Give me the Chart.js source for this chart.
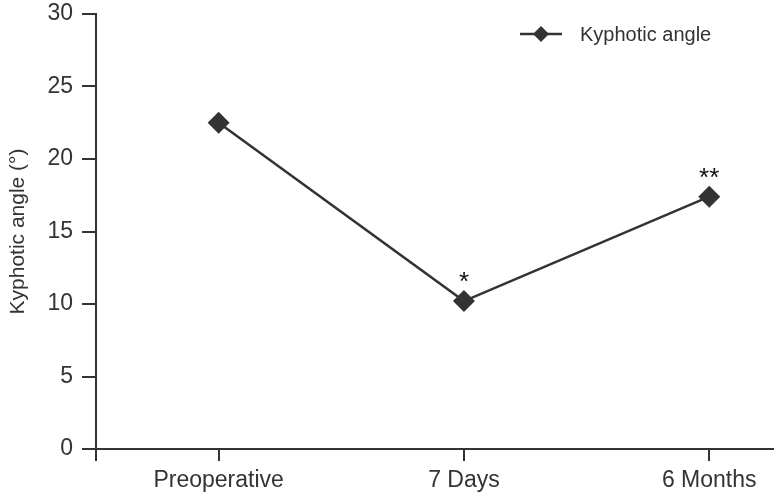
<!DOCTYPE html>
<html>
<head>
<meta charset="utf-8">
<script src="https://cdn.jsdelivr.net/npm/chart.js@4"></script>
<style>
  html, body { margin: 0; padding: 0; background: #fff; }
  #wrap { width: 777px; height: 497px; }
</style>
</head>
<body>
<div id="wrap"><canvas id="chart"></canvas></div>
<script>
const categories = ['Preoperative', '7 Days', '6 Months'];
const kyphoticAngle = [22.5, 10.2, 17.4];
const significance = ['', '*', '**'];
const yTicks = [0, 5, 10, 15, 20, 25, 30];

const ink = '#333333';
const font = 'Liberation Sans, Arial, sans-serif';

// stars above the points, placed from the dataset's own points
const starPlugin = {
  id: 'stars',
  afterDatasetsDraw(chart) {
    const ctx = chart.ctx;
    const meta = chart.getDatasetMeta(0);
    ctx.save();
    ctx.fillStyle = '#111';
    ctx.font = '26px ' + font;
    ctx.textAlign = 'center';
    ctx.textBaseline = 'alphabetic';
    meta.data.forEach((pt, i) => {
      if (significance[i]) ctx.fillText(significance[i], pt.x, pt.y - 11);
    });
    ctx.restore();
  }
};

// legend: line with diamond, then label
const legendPlugin = {
  id: 'lineLegend',
  afterDraw(chart) {
    const ctx = chart.ctx;
    const y = 34;
    ctx.save();
    ctx.strokeStyle = ink;
    ctx.lineWidth = 2.5;
    ctx.beginPath();
    ctx.moveTo(520, y);
    ctx.lineTo(562, y);
    ctx.stroke();
    ctx.fillStyle = ink;
    ctx.beginPath();
    ctx.moveTo(541, y - 8);
    ctx.lineTo(549, y);
    ctx.lineTo(541, y + 8);
    ctx.lineTo(533, y);
    ctx.closePath();
    ctx.fill();
    ctx.font = '20px ' + font;
    ctx.textBaseline = 'middle';
    ctx.fillText(chart.data.datasets[0].label, 580, y + 1);
    ctx.restore();
  }
};

new Chart(document.getElementById('chart'), {
  type: 'line',
  data: {
    datasets: [{
      label: 'Kyphotic angle',
      data: kyphoticAngle.map((v, i) => ({ x: i, y: v })),
      borderColor: ink,
      borderWidth: 2.5,
      backgroundColor: ink,
      pointStyle: 'rectRot',
      pointRadius: 11,
      pointHoverRadius: 11,
      pointBorderWidth: 0,
      tension: 0
    }]
  },
  options: {
    responsive: true,
    maintainAspectRatio: false,
    animation: false,
    layout: { autoPadding: false, padding: { top: 14, right: 4, left: 0, bottom: 0 } },
    plugins: { legend: { display: false }, tooltip: { enabled: false } },
    scales: {
      x: {
        type: 'linear',
        min: -0.5,
        max: 2.26,
        afterBuildTicks(scale) {
          scale.ticks = [-0.5, 0, 1, 2].map(v => ({ value: v }));
        },
        afterFit(scale) {
          scale.height = 48;
          scale.paddingLeft = 0;
          scale.paddingRight = 0;
        },
        border: { display: true, color: ink, width: 2 },
        grid: { drawOnChartArea: false, drawTicks: true, tickLength: 12, color: ink, lineWidth: 2 },
        ticks: {
          autoSkip: false,
          maxRotation: 0,
          padding: 6,
          color: ink,
          font: { family: font, size: 23 },
          callback: v => categories[v] !== undefined ? categories[v] : ''
        }
      },
      y: {
        min: 0,
        max: 30,
        afterBuildTicks(scale) {
          scale.ticks = yTicks.map(v => ({ value: v }));
        },
        afterFit(scale) {
          scale.width = 96;
          scale.paddingTop = 0;
          scale.paddingBottom = 0;
        },
        border: { display: true, color: ink, width: 2 },
        grid: { drawOnChartArea: false, drawTicks: true, tickLength: 14, color: ink, lineWidth: 2 },
        ticks: {
          padding: 9,
          color: ink,
          font: { family: font, size: 23 }
        },
        title: {
          display: true,
          text: 'Kyphotic angle (°)',
          color: ink,
          font: { family: font, size: 21 },
          padding: { top: 6, bottom: 2 }
        }
      }
    }
  },
  plugins: [starPlugin, legendPlugin]
});
</script>
</body>
</html>
